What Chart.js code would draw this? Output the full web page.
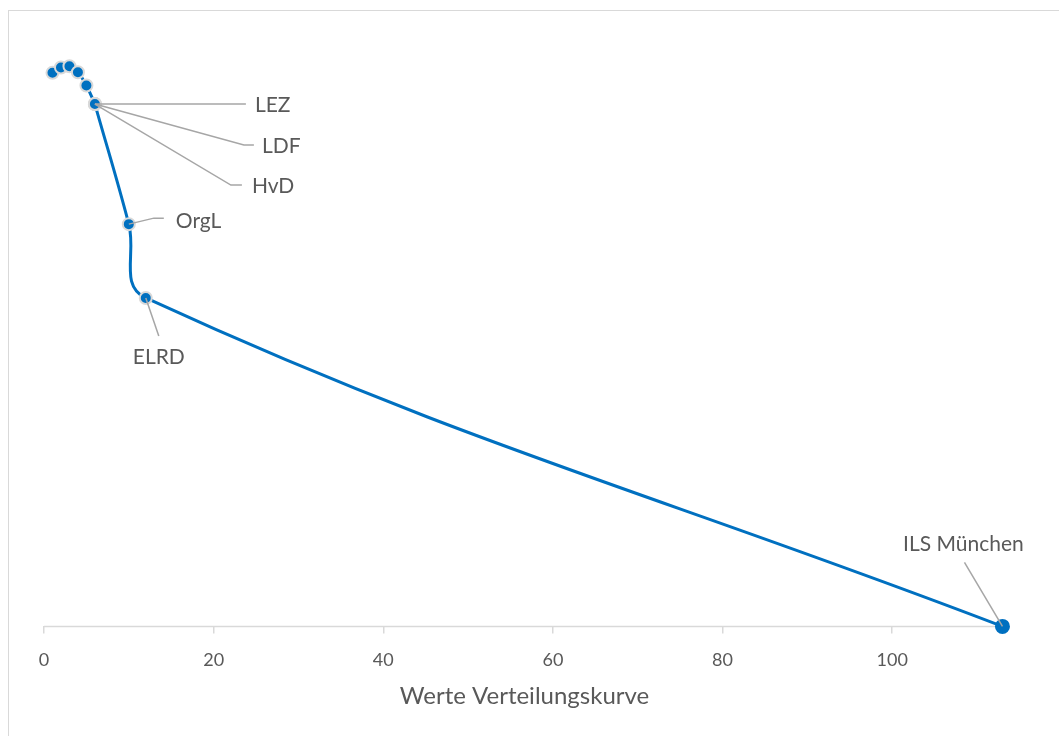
<!DOCTYPE html>
<html lang="de">
<head>
<meta charset="utf-8">
<title>Werte Verteilungskurve</title>
<script src="https://cdn.jsdelivr.net/npm/chart.js@4/dist/chart.umd.min.js"></script>
<style>
  html, body { margin: 0; padding: 0; background: #ffffff; }
  #wrap { position: relative; width: 1059px; height: 736px; overflow: hidden; }
  #frame { position: absolute; left: 8px; top: 10px; right: -10px; bottom: -10px;
           border-left: 1.5px solid #d9d9d9; border-top: 1.5px solid #d9d9d9; }
  canvas { position: absolute; left: 0; top: 0; }
</style>
</head>
<body>
<div id="wrap">
  <div id="frame"></div>
  <canvas id="chart" width="1059" height="736"></canvas>
</div>
<script>
// Distribution curve values (x = Wert, y = Dichte, arbitrary units)
const xValues = [1, 2, 3, 4, 5, 6, 6, 6, 10, 12, 113];
const yValues = [92.2, 93.1, 93.3, 92.3, 90.1, 87.0, 87.0, 87.0, 67.0, 54.7, 0];
const pointNames = ['', '', '', '', '', 'LEZ', 'LDF', 'HvD', 'OrgL', 'ELRD', 'ILS München'];
const xTicks = [0, 20, 40, 60, 80, 100];
const axisTitle = 'Werte Verteilungskurve';

const FONT = 'Lato, "Liberation Sans", sans-serif';
const TEXT = '#595959';
const BLUE = '#0070c0';
const AXIS = '#d9d9d9';

// Label placement for each named point: leader path (pixel offsets from the marker)
// and text anchor offset + alignment.
const labelLayout = {
  'LEZ':         { path: [[151, 0]],             text: [160, 1],   align: 'left' },
  'LDF':         { path: [[149, 41], [159, 41]], text: [167, 42],  align: 'left' },
  'HvD':         { path: [[136, 81], [147, 81]], text: [157, 82],  align: 'left' },
  'OrgL':        { path: [[25, -6], [35, -6]],   text: [47, -3],   align: 'left' },
  'ELRD':        { path: [[13, 38]],             text: [13, 59],   align: 'center' },
  'ILS München': { path: [[-38, -64]],           text: [-39, -82], align: 'center' }
};

const points = xValues.map((x, i) => ({ x: x, y: yValues[i] }));
const lastIdx = points.length - 1;

// Horizontal axis line, limited to the plot width
const axisLine = {
  id: 'axisLine',
  beforeDatasetsDraw(chart) {
    const ctx = chart.ctx, area = chart.chartArea;
    const y = chart.scales.y.getPixelForValue(0);
    ctx.save();
    ctx.strokeStyle = AXIS;
    ctx.lineWidth = 1.5;
    ctx.beginPath();
    ctx.moveTo(area.left, y);
    ctx.lineTo(area.right + 1, y);
    ctx.stroke();
    ctx.restore();
  }
};

// Data labels with leader lines
const leaderLabels = {
  id: 'leaderLabels',
  afterDatasetsDraw(chart) {
    const ctx = chart.ctx;
    const xs = chart.scales.x, ys = chart.scales.y;
    ctx.save();
    ctx.font = '21px ' + FONT;
    ctx.textBaseline = 'middle';
    pointNames.forEach((name, i) => {
      const lay = labelLayout[name];
      if (!name || !lay) return;
      const px = xs.getPixelForValue(xValues[i]);
      const py = ys.getPixelForValue(yValues[i]);
      ctx.beginPath();
      ctx.moveTo(px, py);
      lay.path.forEach(p => ctx.lineTo(px + p[0], py + p[1]));
      ctx.strokeStyle = '#a6a6a6';
      ctx.lineWidth = 1.5;
      ctx.stroke();
      ctx.fillStyle = TEXT;
      ctx.textAlign = lay.align;
      ctx.fillText(name, px + lay.text[0], py + lay.text[1]);
    });
    ctx.restore();
  }
};

new Chart(document.getElementById('chart'), {
  type: 'scatter',
  data: {
    datasets: [{
      data: points,
      showLine: true,
      borderColor: BLUE,
      borderWidth: 3,
      tension: 0.4,
      pointBackgroundColor: BLUE,
      pointBorderColor: points.map((p, i) => i === lastIdx ? BLUE : AXIS),
      pointBorderWidth: points.map((p, i) => i === lastIdx ? 0 : 2),
      pointRadius: points.map((p, i) => i === lastIdx ? 7.5 : 6),
      clip: false
    }]
  },
  options: {
    responsive: false,
    animation: false,
    events: [],
    layout: { padding: { left: 44, right: 54, top: 26, bottom: 28 } },
    plugins: { legend: { display: false }, tooltip: { enabled: false } },
    scales: {
      x: {
        type: 'linear',
        min: 0,
        max: 113.3,
        afterBuildTicks(scale) { scale.ticks = xTicks.map(v => ({ value: v })); },
        grid: {
          display: true,
          drawOnChartArea: false,
          drawTicks: true,
          tickLength: 7,
          color: AXIS,
          lineWidth: 1.5
        },
        border: { display: false },
        ticks: {
          color: TEXT,
          font: { family: FONT, size: 18 },
          padding: 16,
          maxRotation: 0
        },
        title: {
          display: true,
          text: axisTitle,
          color: TEXT,
          font: { family: FONT, size: 24, lineHeight: 1 },
          padding: { top: -3, bottom: 0 }
        }
      },
      y: {
        type: 'linear',
        display: false,
        min: 0,
        max: 100
      }
    }
  },
  plugins: [axisLine, leaderLabels]
});
</script>
</body>
</html>
